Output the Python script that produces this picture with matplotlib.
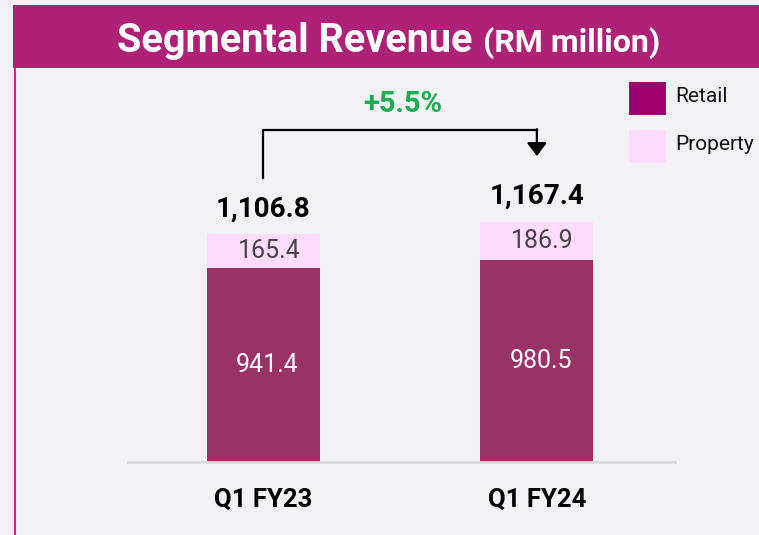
"""
Segmental revenue (RM million), Q1 FY23 vs Q1 FY24, stacked bars.
"""

import matplotlib.pyplot as plt
from matplotlib.patches import Rectangle

# data
quarters = ["Q1 FY23", "Q1 FY24"]
retail = [941.4, 980.5]
prop = [165.4, 186.9]
totals = [1106.8, 1167.4]
growth_label = "+5.5%"
segments = ["Retail", "Property"]

BG = "#f2f2f4"
HEADER = "#ad2276"
RETAIL_BAR = "#993366"
RETAIL_KEY = "#a0006e"
PROPERTY = "#ffdcfd"
GREEN = "#1aad52"
FONT = ["Roboto", "DejaVu Sans"]

fig = plt.figure(figsize=(7.59, 5.35), dpi=100, facecolor=BG)

# header band and left border
fig.patches.append(Rectangle((0.0171, 0.873), 0.99, 0.118, transform=fig.transFigure,
                             facecolor=HEADER, edgecolor="none", zorder=0))
fig.patches.append(Rectangle((0.0178, 0.0), 0.0035, 0.875, transform=fig.transFigure,
                             facecolor="#c5288a", edgecolor="none", zorder=0))
fig.text(0.623, 0.903, "Segmental Revenue", ha="right", va="baseline", color="white",
         fontsize=28.5, fontweight="bold", family=FONT)
fig.text(0.637, 0.903, "(RM million)", ha="left", va="baseline", color="white",
         fontsize=23, fontweight="bold", family=FONT)

ax = fig.add_axes([0.1686, 0.1364, 0.7207, 0.7327])
ax.set_facecolor(BG)
x = range(len(quarters))
width = 0.413
ax.bar(x, retail, width, color=RETAIL_BAR, zorder=2)
ax.bar(x, prop, width, bottom=retail, color=PROPERTY, zorder=2)

for i in x:
    ax.text(i + 0.014, retail[i] / 2, f"{retail[i]:,.1f}", ha="center", va="center",
            color="white", fontsize=18, family=FONT)
    ax.text(i + 0.02, retail[i] + prop[i] / 2, f"{prop[i]:,.1f}", ha="center", va="center",
            color="#444444", fontsize=18, family=FONT)
    ax.text(i, totals[i] + 85, f"{totals[i]:,.1f}", ha="center", va="baseline",
            color="black", fontsize=20, fontweight="bold", family=FONT)

# growth bracket
top = 1612
ax.plot([0, 0, 1], [1379, top, top], color="black", lw=1.6, zorder=3)
ax.annotate("", xy=(1, 1485), xytext=(1, top + 4),
            arrowprops=dict(arrowstyle="-|>,head_width=0.6,head_length=0.8",
                            color="black", lw=1.6, shrinkA=0, shrinkB=0))
ax.text(0.51, 1740, growth_label, ha="center", va="center", color=GREEN,
        fontsize=21, fontweight="bold", family=FONT)

ax.set_xlim(-0.495, 1.505)
ax.set_ylim(0, 1903)
ax.set_xticks(list(x))
ax.set_xticklabels(quarters, fontsize=18.5, fontweight="bold", family=FONT)
ax.tick_params(axis="x", length=0, pad=19)
ax.set_yticks([])
for side in ["left", "right", "top"]:
    ax.spines[side].set_visible(False)
ax.spines["bottom"].set_color("#dcdcdc")
ax.spines["bottom"].set_linewidth(2)

# legend keys drawn as square swatches
key_colors = [RETAIL_KEY, PROPERTY]
key_tops = [0.847, 0.757]
for label, color, ky in zip(segments, key_colors, key_tops):
    fig.patches.append(Rectangle((0.829, ky - 0.062), 0.049, 0.062, transform=fig.transFigure,
                                 facecolor=color, edgecolor="none"))
    fig.text(0.890, ky - 0.028, label, ha="left", va="center", color="#111111",
             fontsize=15, family=FONT)

fig.savefig("out.png", dpi=100, facecolor=BG)
